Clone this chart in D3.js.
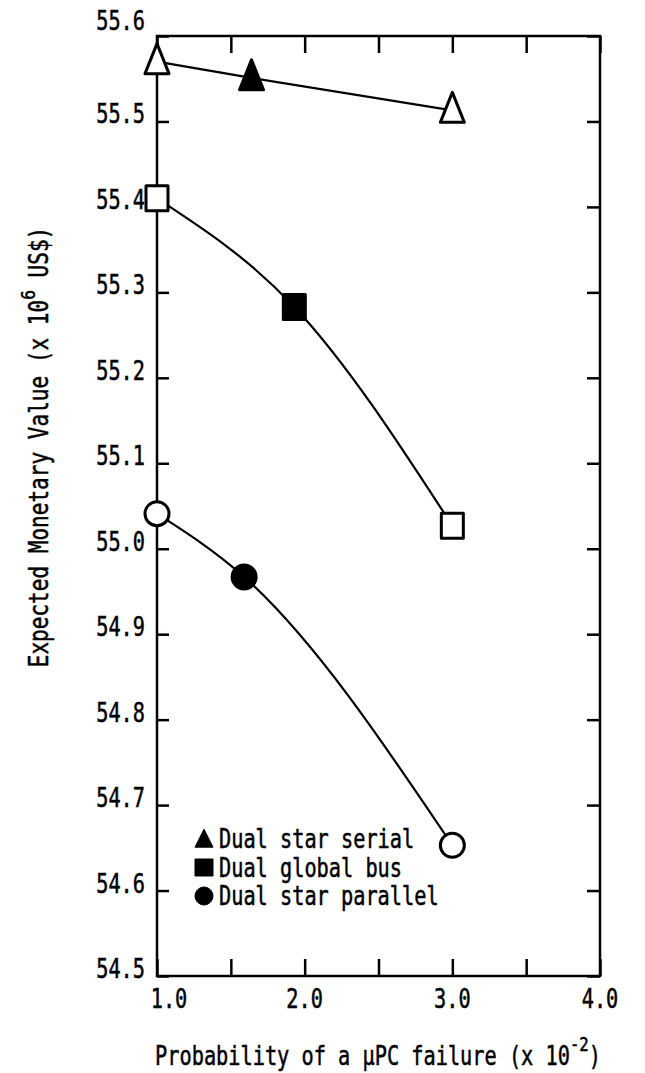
<!DOCTYPE html>
<html>
<head>
<meta charset="utf-8">
<script src="https://cdn.jsdelivr.net/npm/d3@7"></script>
<style>
  html, body { margin: 0; padding: 0; background: #fff; }
  svg { display: block; }
  text { font-family: "DejaVu Sans Mono", "Liberation Mono", monospace; fill: #000; stroke: #000; stroke-width: 0.5; }
</style>
</head>
<body>
<svg id="chart" width="645" height="1073"></svg>
<script>
// ---- data ----
const seriesNames = ["Dual star serial", "Dual global bus", "Dual star parallel"];
const seriesShapes = ["triangle", "square", "circle"];

const serialX = [1.0, 1.64, 3.0];
const serialY = [55.57, 55.551, 55.513];

const busX = [1.0, 1.93, 3.0];
const busY = [55.41, 55.283, 55.027];

const parallelX = [1.0, 1.59, 3.0];
const parallelY = [55.041, 54.967, 54.653];

// which points are drawn filled (the middle point of each series)
const serialFilled = [false, true, false];
const busFilled = [false, true, false];
const parallelFilled = [false, true, false];

const xTickValues = [1.0, 1.5, 2.0, 2.5, 3.0, 3.5, 4.0];
const xTickLabels = ["1.0", "", "2.0", "", "3.0", "", "4.0"];
const yTickValues = [54.5, 54.6, 54.7, 54.8, 54.9, 55.0, 55.1, 55.2, 55.3, 55.4, 55.5, 55.6];
const yTickLabels = ["54.5", "54.6", "54.7", "54.8", "54.9", "55.0", "55.1", "55.2", "55.3", "55.4", "55.5", "55.6"];

const xTitle = ["Probability of a \u03bcPC failure (x 10", "-2", ")"];
const yTitle = ["Expected Monetary Value (x 10", "6", " US$)"];

// ---- layout ----
const svg = d3.select("#chart");
const L = 157, R = 600, T = 36, B = 976;
const FS = 26, SX = 0.78;

const x = d3.scaleLinear().domain([1, 4]).range([L, R]);
const y = d3.scaleLinear().domain([54.5, 55.6]).range([B, T]);

// frame
svg.append("rect")
  .attr("x", L).attr("y", T).attr("width", R - L).attr("height", B - T)
  .attr("fill", "none").attr("stroke", "#000").attr("stroke-width", 2.5);

// ticks (inward) via axes
const xb = svg.append("g").attr("transform", `translate(0,${B})`)
  .call(d3.axisTop(x).tickValues(xTickValues).tickSize(17).tickFormat(""));
const xt = svg.append("g").attr("transform", `translate(0,${T})`)
  .call(d3.axisBottom(x).tickValues(xTickValues).tickSize(17).tickFormat(""));
const yl = svg.append("g").attr("transform", `translate(${L},0)`)
  .call(d3.axisRight(y).tickValues(yTickValues).tickSize(12).tickFormat(""));
const yr = svg.append("g").attr("transform", `translate(${R},0)`)
  .call(d3.axisLeft(y).tickValues(yTickValues).tickSize(13).tickFormat(""));
[xb, xt, yl, yr].forEach(g => {
  g.select(".domain").remove();
  g.selectAll("line").attr("stroke", "#000").attr("stroke-width", 2.5);
});

// tick labels
yTickValues.forEach((v, i) => {
  const dy = i === yTickValues.length - 1 ? -6 : 2;
  svg.append("g").attr("transform", `translate(145,${y(v) + dy}) scale(${SX},1)`)
    .append("text").attr("text-anchor", "end").attr("font-size", FS).text(yTickLabels[i]);
});
xTickValues.forEach((v, i) => {
  if (!xTickLabels[i]) return;
  const dx = i === 0 ? 12 : 0;
  svg.append("g").attr("transform", `translate(${x(v) + dx},1008) scale(${SX},1)`)
    .append("text").attr("text-anchor", "middle").attr("font-size", FS).text(xTickLabels[i]);
});

// axis titles
const xt_t = svg.append("g").attr("transform", `translate(378,1065) scale(${SX},1)`)
  .append("text").attr("text-anchor", "middle").attr("font-size", FS);
xt_t.append("tspan").text(xTitle[0]);
xt_t.append("tspan").attr("font-size", 20).attr("dy", -14).text(xTitle[1]);
xt_t.append("tspan").attr("dy", 14).text(xTitle[2]);

const yt_t = svg.append("g").attr("transform", `translate(48,447) rotate(-90) scale(0.81,1)`)
  .append("text").attr("text-anchor", "middle").attr("font-size", FS);
yt_t.append("tspan").text(yTitle[0]);
yt_t.append("tspan").attr("font-size", 20).attr("dy", -13).text(yTitle[1]);
yt_t.append("tspan").attr("dy", 13).text(yTitle[2]);

// markers
function markerPath(shape, w, h) {
  if (shape === "triangle") return `M0,${-h * 0.6}L${w / 2},${h * 0.4}L${-w / 2},${h * 0.4}Z`;
  if (shape === "square") return `M${-w / 2},${-h / 2}H${w / 2}V${h / 2}H${-w / 2}Z`;
  return d3.arc()({innerRadius: 0, outerRadius: w / 2, startAngle: 0, endAngle: 2 * Math.PI});
}

const series = [
  {xs: serialX, ys: serialY, filled: serialFilled, shape: "triangle", w: 24, h: 30},
  {xs: busX, ys: busY, filled: busFilled, shape: "square", w: 22, h: 25},
  {xs: parallelX, ys: parallelY, filled: parallelFilled, shape: "circle", w: 24, h: 24}
];

const line = d3.line().x(d => x(d[0])).y(d => y(d[1])).curve(d3.curveMonotoneX);

series.forEach(s => {
  const pts = s.xs.map((v, i) => [v, s.ys[i]]);
  svg.append("path").attr("d", line(pts)).attr("fill", "none")
    .attr("stroke", "#000").attr("stroke-width", 2.2);
});
series.forEach(s => {
  s.xs.forEach((v, i) => {
    svg.append("path")
      .attr("d", markerPath(s.shape, s.w, s.h))
      .attr("transform", `translate(${x(v)},${y(s.ys[i])})`)
      .attr("fill", s.filled[i] ? "#000" : "#fff")
      .attr("stroke", "#000").attr("stroke-width", 3)
      .attr("stroke-linejoin", "round");
  });
});

// legend
const legendY0 = 848, legendDy = 28.5;
seriesNames.forEach((name, i) => {
  const cy = legendY0 + i * legendDy - 9;
  svg.append("path")
    .attr("d", markerPath(seriesShapes[i], 18, seriesShapes[i] === "triangle" ? 18 : 17))
    .attr("transform", `translate(204,${cy + (seriesShapes[i] === "triangle" ? 1 : 0)})`)
    .attr("fill", "#000").attr("stroke", "#000").attr("stroke-width", 1);
  svg.append("g").attr("transform", `translate(219,${legendY0 + i * legendDy}) scale(${SX},1)`)
    .append("text").attr("font-size", FS).text(name);
});
</script>
</body>
</html>
